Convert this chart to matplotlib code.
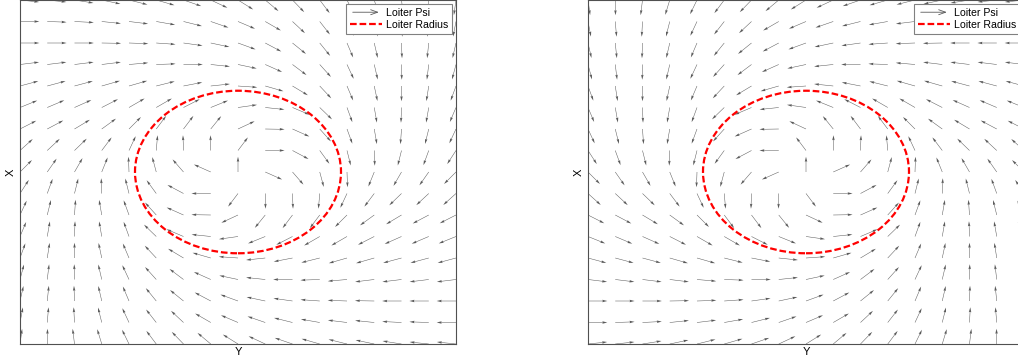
import numpy as np
import matplotlib.pyplot as plt
from matplotlib.patches import Circle, FancyArrowPatch
from matplotlib.lines import Line2D
from matplotlib.legend_handler import HandlerBase

plt.rcParams['font.family'] = ['Liberation Sans', 'DejaVu Sans']

# grid of the field: Y (east) to the right, X (north) up, same spacing on both
grid_y = np.arange(-8, 9)
grid_x = np.arange(8, -9, -1)   # rows from top to bottom
loiter_radius = 3.78

# direction of each arrow as it appears on the page (deg, counter-clockwise from right)
# clockwise loiter (left panel), rows top -> bottom, columns left -> right
ang_cw = np.array([
    [-6, -6, -9, -12, -14, -16, -19, -25, -32, -40, -46, -53, -64, -73, -83, -91, -98],
    [0, -2, -3, -6, -7, -10, -14, -19, -23, -30, -43, -52, -65, -76, -87, -95, -101],
    [0, 0, 0, -1, -2, -4, -8, -12, -20, -28, -39, -51, -67, -77, -88, -96, -103],
    [7, 7, 7, 7, 5, 2, 0, -6, -12, -24, -37, -48, -65, -77, -89, -97, -105],
    [15, 15, 15, 16, 16, 14, 11, 6, -4, -16, -31, -47, -67, -78, -90, -99, -110],
    [22, 23, 24, 27, 30, 30, 27, 22, 8, -6, -23, -44, -70, -80, -92, -100, -113],
    [27, 28, 31, 36, 45, 53, 53, 51, 25, -1, -24, -48, -70, -80, -94, -104, -115],
    [42, 43, 44, 53, 65, 85, 92, 91, 53, 0, -28, -54, -76, -88, -104, -110, -123],
    [45, 55, 60, 68, 92, 105, 131, 156, 90, -24, -49, -75, -88, -112, -120, -125, -135],
    [57, 70, 76, 92, 104, 126, 152, 180, -127, -89, -88, -95, -115, -127, -136, -137, -138],
    [65, 76, 86, 100, 110, 132, 156, 179, -155, -129, -127, -127, -135, -144, -149, -152, -153],
    [67, 80, 88, 100, 110, 136, 157, 174, -172, -158, -153, -150, -150, -153, -156, -157, -158],
    [70, 81, 90, 102, 113, 133, 149, 164, 176, -174, -169, -166, -164, -164, -165, -165, -165],
    [75, 83, 91, 103, 115, 132, 143, 156, 168, 174, 180, -178, -175, -173, -173, -173, -173],
    [77, 84, 92, 103, 113, 129, 141, 152, 160, 168, 172, 176, 178, 179, 180, 180, 180],
    [79, 85, 93, 104, 115, 128, 137, 150, 157, 161, 166, 170, 173, 174, 177, 178, 180],
    [82, 89, 97, 107, 116, 127, 134, 140, 148, 155, 161, 164, 166, 168, 171, 174, 174],
])
# counter-clockwise loiter (right panel) is the same field seen in a mirror
ang_ccw = 180 - ang_cw[:, ::-1]

ARROW_C = '#5a5a5a'


class HandlerArrow(HandlerBase):
    def create_artists(self, legend, orig_handle, xdescent, ydescent,
                       width, height, fontsize, trans):
        y = height / 2 - ydescent
        a = FancyArrowPatch((-xdescent, y), (-xdescent + width, y),
                            arrowstyle='->,head_length=0.5,head_width=0.18',
                            mutation_scale=10, lw=0.6, color=ARROW_C,
                            transform=trans)
        return [a]


def loiter_panel(ax, ang):
    ax.set_xlim(-8, 8)
    ax.set_ylim(-8, 8)
    # page direction -> unit vector in data units
    sx, sy = np.diff(ax.transData.transform([(0, 0), (1, 1)]), axis=0)[0]
    a = np.deg2rad(ang)
    u, v = np.cos(a) / sx, np.sin(a) / sy
    n = np.hypot(u, v)
    Y, X = np.meshgrid(grid_y, grid_x)
    ax.quiver(Y, X, u / n, v / n, angles='xy', scale_units='xy', scale=1.41,
              units='dots', width=0.5, headwidth=5, headlength=10,
              headaxislength=9, color=ARROW_C, lw=0)
    ax.add_patch(Circle((0, 0), loiter_radius, fill=False, ec='#ff0000',
                        lw=1.6, ls=(0, (3.0, 1.3))))
    ax.set_xticks([])
    ax.set_yticks([])
    for s in ax.spines.values():
        s.set_color('#505050')
        s.set_linewidth(0.8)
    ax.set_xlabel('Y', fontsize=8, labelpad=2)
    ax.set_ylabel('X', fontsize=8, labelpad=3)
    arrow_proxy = FancyArrowPatch((0, 0), (1, 0))
    radius_proxy = Line2D([], [], color='#ff0000', lw=1.6, ls=(0, (3.0, 1.3)))
    leg = ax.legend([arrow_proxy, radius_proxy], ['Loiter Psi', 'Loiter Radius'],
                    handler_map={arrow_proxy: HandlerArrow()},
                    loc='upper right', fontsize=7.6, fancybox=False,
                    framealpha=1, edgecolor='#808080', handlelength=3.0,
                    handletextpad=0.4, labelspacing=0.2, borderpad=0.35,
                    borderaxespad=0.4)
    leg.get_frame().set_linewidth(0.8)


fig = plt.figure(figsize=(10.18, 3.62), dpi=100)
ax1 = fig.add_axes([20 / 1018, 18 / 362, 436 / 1018, 344 / 362])
ax2 = fig.add_axes([588 / 1018, 18 / 362, 436 / 1018, 344 / 362])
loiter_panel(ax1, ang_cw)
loiter_panel(ax2, ang_ccw)

fig.savefig('out.png', dpi=100)
